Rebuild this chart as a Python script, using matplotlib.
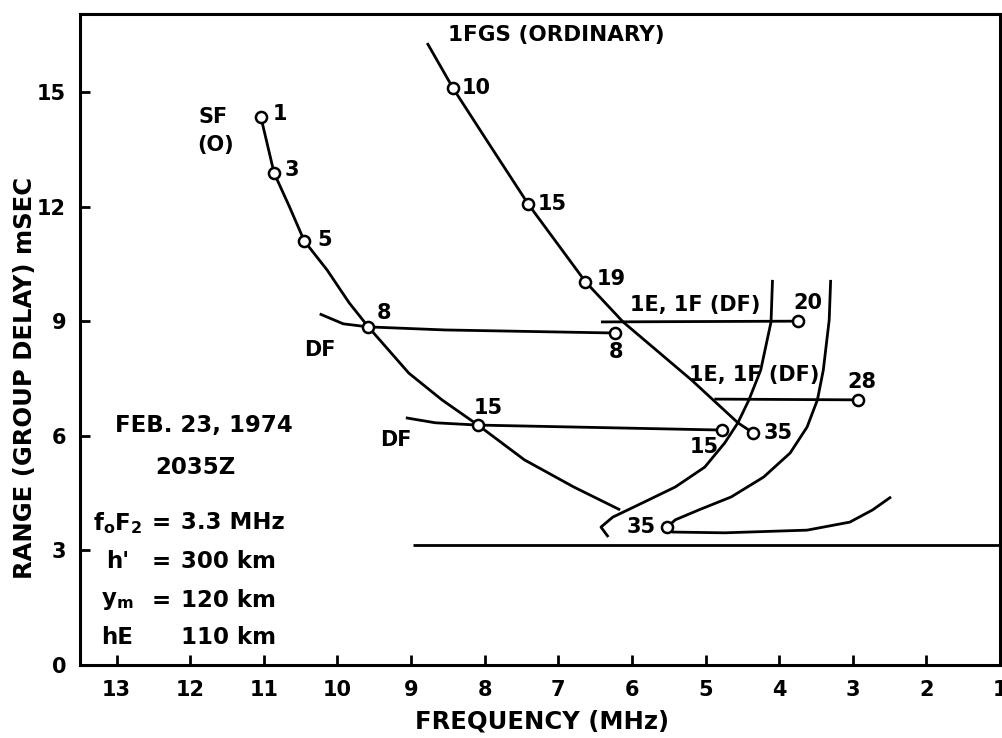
import matplotlib.pyplot as plt

plt.rcParams['font.family'] = ['DejaVu Sans']
plt.rcParams['font.weight'] = 'bold'
plt.rcParams['mathtext.default'] = 'regular'

# SF (ordinary) trace
sf_freq = [11.04, 10.86, 10.65, 10.45, 10.14, 9.84, 9.58, 9.03, 8.58, 8.09,
           7.46, 6.79, 6.16]
sf_range = [14.35, 12.88, 11.99, 11.10, 10.34, 9.48, 8.85, 7.64, 6.94, 6.28,
            5.37, 4.66, 4.06]
sf_pt_freq = [11.04, 10.86, 10.45, 9.58, 8.09]
sf_pt_range = [14.35, 12.88, 11.10, 8.85, 6.28]
sf_pt_labels = ["1", "3", "5", "8", "15"]

# 1FGS (ordinary) trace
gs_freq = [8.78, 8.43, 7.93, 7.41, 6.63, 6.12, 5.19, 4.56, 4.35]
gs_range = [16.28, 15.10, 13.61, 12.07, 10.03, 8.98, 7.46, 6.34, 6.07]
gs_pt_freq = [8.43, 7.41, 6.63, 4.35]
gs_pt_range = [15.10, 12.07, 10.03, 6.07]
gs_pt_labels = ["10", "15", "19", "35"]

# DF traces
df8_freq = [10.24, 9.92, 9.58, 8.54, 6.23]
df8_range = [9.19, 8.93, 8.85, 8.77, 8.69]
df15_freq = [9.07, 8.67, 8.09, 4.78]
df15_range = [6.47, 6.34, 6.28, 6.15]
df_end_freq = [6.23, 4.78]
df_end_range = [8.69, 6.15]
df_end_labels = ["8", "15"]

# 1E,1F (DF) traces
ef20_freq = [6.42, 3.75]
ef20_range = [8.98, 9.00]
ef28_freq = [4.88, 2.93]
ef28_range = [6.96, 6.94]
ef_end_freq = [3.75, 2.93]
ef_end_range = [9.00, 6.94]
ef_end_labels = ["20", "28"]

# the two steep curves near 4 MHz
ca_freq = [4.09, 4.11, 4.25, 4.41, 4.56, 4.74, 5.01, 5.41, 5.86, 6.26, 6.42, 6.32]
ca_range = [10.08, 8.98, 7.72, 6.94, 6.34, 5.81, 5.18, 4.66, 4.24, 3.87, 3.61, 3.35]
cb_freq = [3.30, 3.32, 3.40, 3.48, 3.62, 3.85, 4.21, 4.65, 5.09, 5.41, 5.52,
           5.45, 4.74, 3.62, 3.04, 2.73, 2.48]
cb_range = [10.08, 9.03, 7.72, 6.94, 6.23, 5.55, 4.92, 4.40, 4.06, 3.80, 3.61,
            3.48, 3.46, 3.53, 3.74, 4.06, 4.40]
cb_pt_freq = [5.52]
cb_pt_range = [3.61]
cb_pt_labels = ["35"]

# base line
base_freq = [8.97, 1.0]
base_range = [3.14, 3.14]

x_ticks = [13, 12, 11, 10, 9, 8, 7, 6, 5, 4, 3, 2, 1]
y_ticks = [0, 3, 6, 9, 12, 15]

fig = plt.figure(figsize=(10.02, 7.38), dpi=100)
ax = fig.add_axes([80/1002, 1-665/738, 920/1002, 651/738])

lw = 2.0
for fx, ry in [(sf_freq, sf_range), (gs_freq, gs_range), (df8_freq, df8_range),
               (df15_freq, df15_range), (ef20_freq, ef20_range),
               (ef28_freq, ef28_range), (ca_freq, ca_range), (cb_freq, cb_range),
               (base_freq, base_range)]:
    ax.plot(fx, ry, color="black", lw=lw, solid_capstyle="butt",
            solid_joinstyle="round", zorder=2)

# open circles
mk = dict(marker="o", ms=8, mfc="white", mec="black", mew=1.8, ls="none", zorder=3)
for fx, ry in [(sf_pt_freq, sf_pt_range), (gs_pt_freq, gs_pt_range),
               (df_end_freq, df_end_range), (ef_end_freq, ef_end_range),
               (cb_pt_freq, cb_pt_range)]:
    ax.plot(fx, ry, **mk)

# point labels (pixel offsets from the circles)
fs = 15
sf_off = [(19, 3), (18, 3), (20, 1), (16, 14), (10, 17)]
gs_off = [(23, 0), (24, 0), (26, 3), (25, 0)]
df_off = [(1, -19), (-17, -17)]
ef_off = [(10, 18), (4, 18)]
cb_off = [(-26, 0)]
for labs, fx, ry, offs in [(sf_pt_labels, sf_pt_freq, sf_pt_range, sf_off),
                           (gs_pt_labels, gs_pt_freq, gs_pt_range, gs_off),
                           (df_end_labels, df_end_freq, df_end_range, df_off),
                           (ef_end_labels, ef_end_freq, ef_end_range, ef_off),
                           (cb_pt_labels, cb_pt_freq, cb_pt_range, cb_off)]:
    for lab, f, r, o in zip(labs, fx, ry, offs):
        ax.annotate(lab, (f, r), xytext=o, textcoords="offset pixels",
                    ha="center", va="center", fontsize=fs)

# trace names
ax.text(11.69, 14.35, "SF", ha="center", va="center", fontsize=fs)
ax.text(11.66, 13.61, "(O)", ha="center", va="center", fontsize=fs)
ax.text(7.02, 16.49, "1FGS (ORDINARY)", ha="center", va="center", fontsize=15.5)
ax.text(10.24, 8.25, "DF", ha="center", va="center", fontsize=fs)
ax.text(9.21, 5.89, "DF", ha="center", va="center", fontsize=fs)
ax.text(5.14, 9.42, "1E, 1F (DF)", ha="center", va="center", fontsize=fs)
ax.text(4.34, 7.59, "1E, 1F (DF)", ha="center", va="center", fontsize=fs)

# info block
ax.text(11.81, 6.28, "FEB. 23, 1974", ha="center", va="center", fontsize=16.5)
ax.text(11.93, 5.18, "2035Z", ha="center", va="center", fontsize=16.5)
rows = [("$f_o F_2$", "=", "3.3 MHz", 3.72),
        ("h'", "=", "300 km", 2.70),
        ("$y_m$", "=", "120 km", 1.70),
        ("hE", "", "110 km", 0.71)]
for name, eq, val, yy in rows:
    ax.text(12.99, yy, name, ha="center", va="center", fontsize=16.5)
    ax.text(12.40, yy, eq, ha="center", va="center", fontsize=16.5)
    ax.text(12.12, yy, val, ha="left", va="center", fontsize=16.5)

ax.set_xlim(13.496, 1.163)
ax.set_ylim(0, 17.04)
ax.set_xticks(x_ticks)
ax.set_yticks(y_ticks)
ax.tick_params(axis="both", direction="in", length=7, width=2, labelsize=15)
ax.tick_params(axis="x", pad=11)
ax.tick_params(axis="y", pad=10)
for s in ax.spines.values():
    s.set_linewidth(2.2)

fig.text(542/1002, 1-722/738, "FREQUENCY (MHz)", ha="center", va="center", fontsize=17.5)
fig.text(25/1002, 1-378/738, "RANGE (GROUP DELAY) mSEC", ha="center", va="center",
         rotation=90, fontsize=17.5)

plt.savefig("out.png", dpi=100)
